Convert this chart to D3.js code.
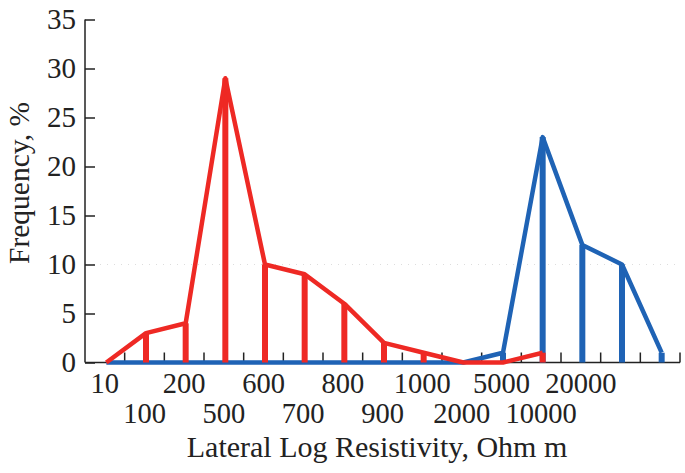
<!DOCTYPE html>
<html><head><meta charset="utf-8">
<script src="https://cdn.jsdelivr.net/npm/d3@7"></script>
<style>body{margin:0;background:#fff}svg{display:block}text{font-family:"Liberation Serif","Times New Roman",serif;fill:#222}</style>
</head><body><svg id="c" width="685" height="473"></svg>
<script>
const categories = ["10","100","200","500","600","700","800","900","1000","2000","5000","10000","20000","c13","c14"];
const tickLabels = ["10","100","200","500","600","700","800","900","1000","2000","5000","10000","20000","",""];
const redValues  = [0,3,4,29,10,9,6,2,1,0,0,1,null,null,null];
const redBars    = [false,true,true,true,true,true,true,true,true,false,false,true,false,false,false];
const blueValues = [0,0,0,0,0,0,0,0,0,0,1,23,12,10,1];
const blueBars   = [false,false,false,false,false,false,false,false,false,false,true,true,true,true,true];
const yTicks = [0,5,10,15,20,25,30,35];

const svg = d3.select("#c");
const x = d3.scaleBand().domain(categories).range([85,680]).padding(0);
const y = d3.scaleLinear().domain([0,35]).range([362.5,19.5]);
const cx = c => x(c) + x.bandwidth()/2 + 1.5;

// faint grid at 10
svg.append("line").attr("x1",86).attr("x2",680).attr("y1",y(10)).attr("y2",y(10))
  .attr("stroke","#ddd").attr("stroke-width",1).attr("stroke-dasharray","1,6");

// y axis
const ya = svg.append("g").attr("transform","translate(85,0)")
  .call(d3.axisLeft(y).tickValues(yTicks).tickSizeInner(-10).tickSizeOuter(0).tickPadding(9));
ya.select(".domain").attr("stroke","#222").attr("stroke-width",1.5).attr("d",`M0,${y(35)}V${y(0)}`);
ya.selectAll(".tick line").attr("stroke","#222").attr("stroke-width",1.5);
ya.selectAll(".tick text").attr("font-size",29).attr("fill","#222").attr("font-family","Liberation Serif");

// x axis line and ticks
svg.append("line").attr("x1",85).attr("x2",680).attr("y1",y(0)).attr("y2",y(0)).attr("stroke","#222").attr("stroke-width",1.5);
const bounds = categories.map(c=>x(c)).concat([x.range()[1]]);
svg.selectAll(".xt").data(bounds.slice(1)).join("line").attr("class","xt")
  .attr("x1",d=>d).attr("x2",d=>d).attr("y1",y(0)).attr("y2",y(0)-10).attr("stroke","#222").attr("stroke-width",1.5);
svg.selectAll(".xl").data(categories).join("text").attr("class","xl")
  .attr("x",c=>x(c)+x.bandwidth()/2).attr("y",(c,i)=> i%2===0 ? 393 : 423)
  .attr("text-anchor","middle").attr("font-size",28.5).text((c,i)=>tickLabels[i]);

// axis titles
svg.append("text").attr("x",377).attr("y",457).attr("text-anchor","middle").attr("font-size",30)
  .text("Lateral Log Resistivity, Ohm m");
svg.append("text").attr("transform","translate(29,183) rotate(-90)").attr("text-anchor","middle").attr("font-size",29.5)
  .text("Frequency, %");

function series(vals, bars, color){
  const pts = categories.map((c,i)=>({c,v:vals[i],b:bars[i]})).filter(d=>d.v!==null);
  svg.append("g").selectAll("line").data(pts.filter(d=>d.b)).join("line")
    .attr("x1",d=>cx(d.c)).attr("x2",d=>cx(d.c)).attr("y1",y(0)).attr("y2",d=>y(d.v))
    .attr("stroke",color).attr("stroke-width",6);
  svg.append("path").datum(pts)
    .attr("d",d3.line().x(d=>cx(d.c)).y(d=>y(d.v)))
    .attr("fill","none").attr("stroke",color).attr("stroke-width",4.5).attr("stroke-linejoin","round");
}
series(blueValues, blueBars, "#1f63b5");
series(redValues, redBars, "#ee2924");
</script></body></html>
